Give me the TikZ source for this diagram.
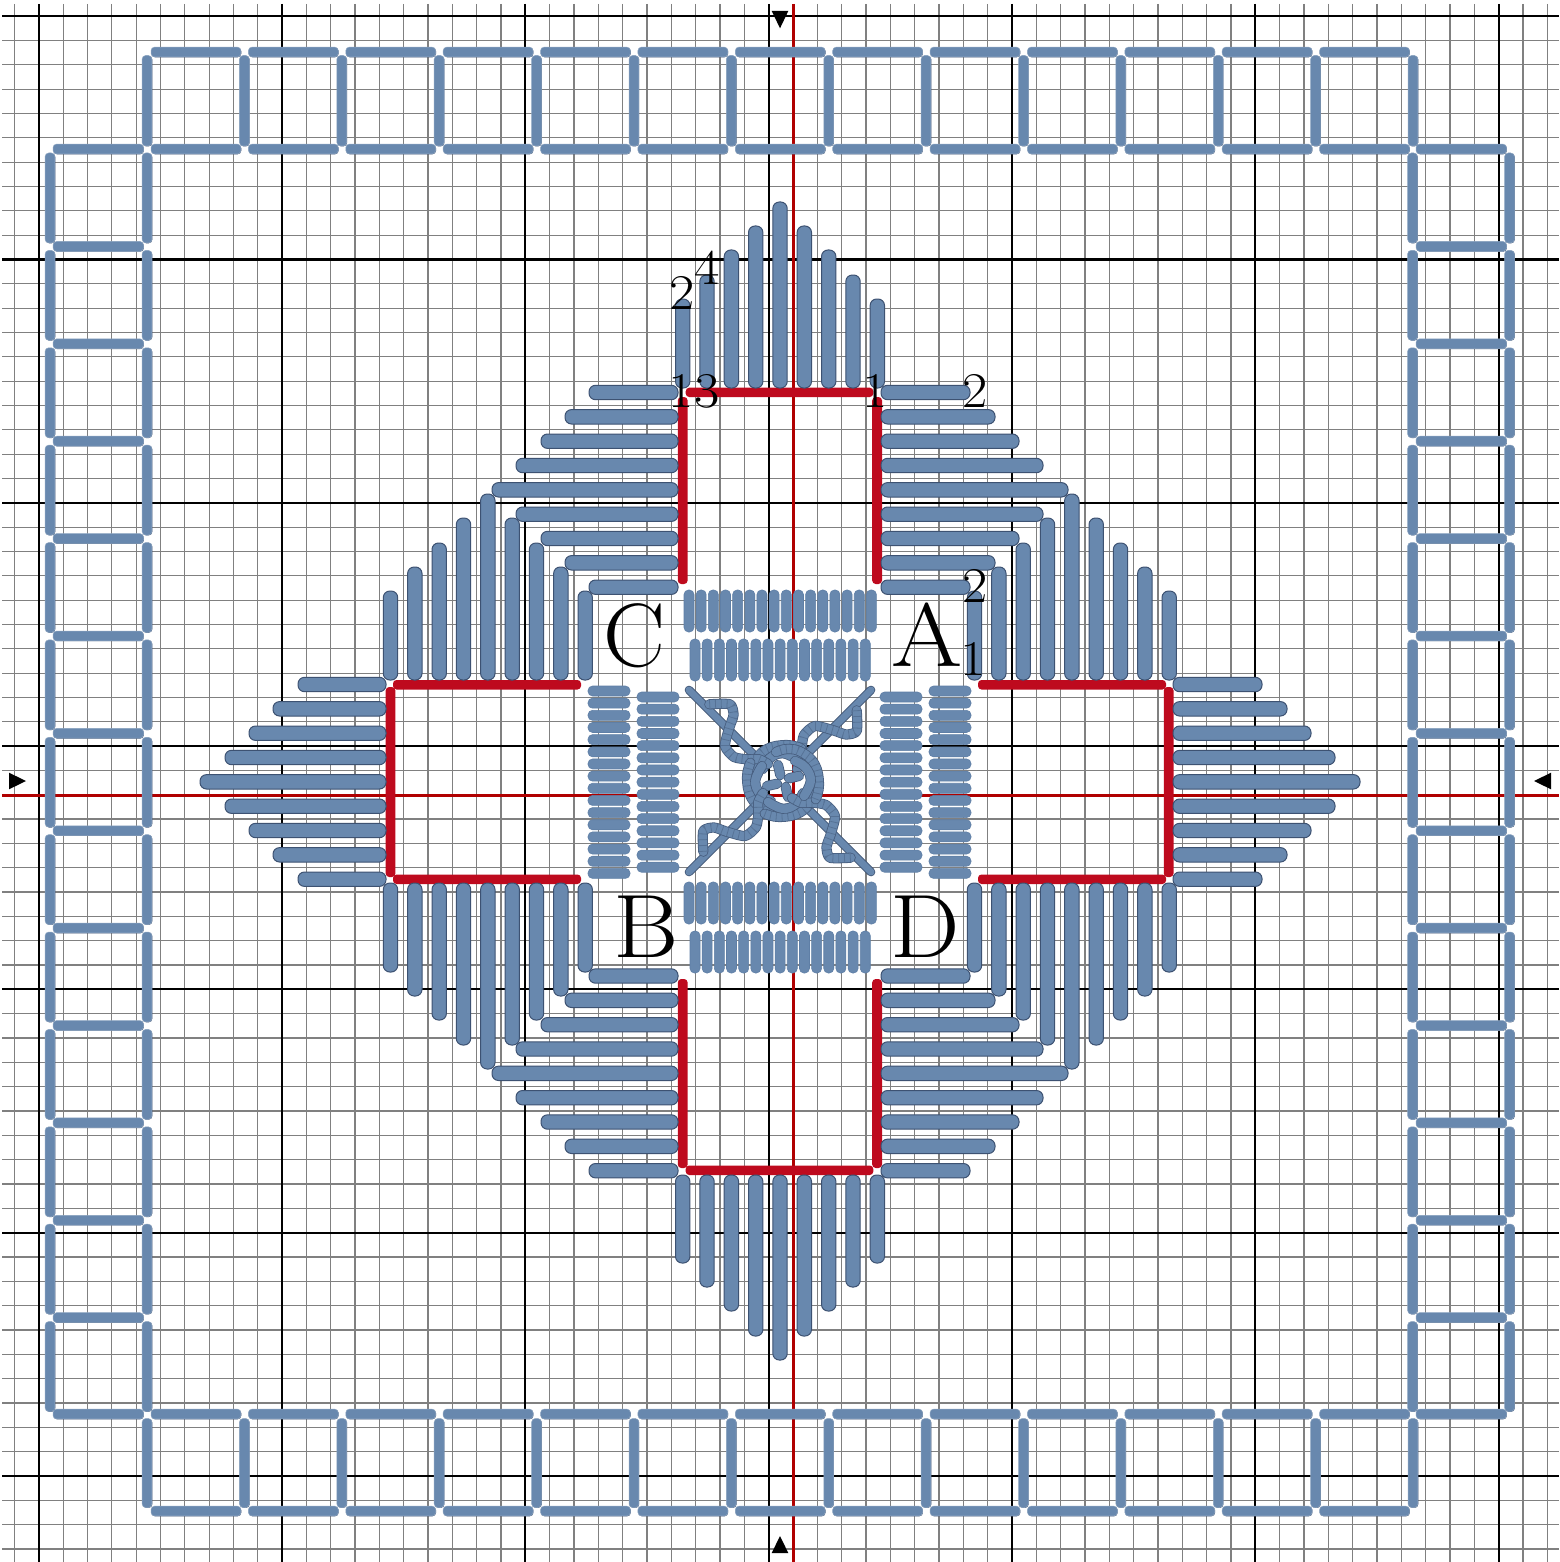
\documentclass[tikz,border=0pt]{standalone}
\definecolor{sb}{HTML}{6888AE}
\definecolor{sd}{HTML}{3D5272}
\definecolor{sl}{HTML}{5F7FA6}
\definecolor{rd}{HTML}{BE0A1E}
\definecolor{rl}{HTML}{B00000}
\definecolor{gr}{HTML}{808080}
\tikzset{
  stitch/.style={fill=sb,draw=sd,line width=1pt,rounded corners=6.5pt},
  small/.style={fill=sb,draw=sl,line width=.6pt,rounded corners=4.5pt},
  border/.style={fill=sb,draw=white!25!sb,line width=.5pt,rounded corners=3.6pt},
  bshadow/.style={fill=sd,rounded corners=3.6pt},
  redbar/.style={fill=rd,rounded corners=3.5pt},
  chain/.style={draw=sd!80!sb,double=sb,double distance=8.6pt,line width=.8pt,line cap=round,line join=round},
  lnk/.style={draw=sd,opacity=.4,line width=8.6pt,dash pattern=on .8pt off 5pt},
  big/.style={font=\fontsize{90}{90}\selectfont,inner sep=0pt,text=black},
  num/.style={font=\fontsize{50}{50}\selectfont,inner sep=0pt,text=black},
  tri/.style={fill=black}
}
\newcommand{\Hs}[3]{\draw[stitch] (#2,#1-7.2) rectangle (#3,#1+7.2);}
\newcommand{\Vs}[3]{\draw[stitch] (#1-7.2,#2) rectangle (#1+7.2,#3);}
\newcommand{\Hb}[3]{\fill[bshadow] (#2+.4,#1-4.4) rectangle (#3+.4,#1+5.3);\draw[border] (#2,#1-4.9) rectangle (#3,#1+4.9);}
\newcommand{\Vb}[3]{\fill[bshadow] (#1-4.4,#2+.4) rectangle (#1+5.3,#3+.4);\draw[border] (#1-4.9,#2) rectangle (#1+4.9,#3);}
\newcommand{\armpts}{(76.7,-70.7) (76.7,-50) (66,-46.5) (53.3,-50.7) (35,-55) (24,-46) (21.7,-32.7) (21.7,-21) (17,-12)}
\newcommand{\ringpts}{(18.3,-32.7) (3.3,-36) (-16.7,-31.7) (-29,-18.3) (-32,-4.3) (-29,7)}
\newcommand{\innerpts}{(15,-21) (0,-27.7) (-13.3,-22.7) (-20,-12)}
\begin{document}
\begin{tikzpicture}[x=1pt,y=-1pt]
\useasboundingbox (0,0) rectangle (1559,1562);
\fill[white] (0,0) rectangle (1559,1562);
% fine grid
\foreach \k in {-1,...,62}{\draw[gr,line width=1.2pt] ({38.8+24.33*\k},4) -- ({38.8+24.33*\k},1562);}
\foreach \k in {0,...,63}{\draw[gr,line width=1.2pt] (2,{16.2+24.33*\k}) -- (1559,{16.2+24.33*\k});}
% bold grid
\foreach \k in {0,...,6}{
  \draw[black,line width=2.1pt] ({38.8+243.3*\k},4) -- ({38.8+243.3*\k},1562);
  \draw[black,line width=2.1pt] (2,{16.2+243.3*\k}) -- (1559,{16.2+243.3*\k});
}
% red axes
\draw[rl,line width=2.6pt] (793.4,4) -- (793.4,1562);
\draw[rl,line width=2.6pt] (2,795.3) -- (1559,795.3);
% arrow marks
\fill[tri] (771.7,11) -- (788.3,11) -- (780,28.3) -- cycle;
\fill[tri] (771.7,1553) -- (788.3,1553) -- (780,1536) -- cycle;
\fill[tri] (9,772.7) -- (9,789.3) -- (26,781) -- cycle;
\fill[tri] (1551,772.7) -- (1551,789.3) -- (1534,781) -- cycle;
% outer border: top and bottom strips
\foreach \k in {0,...,12}{
  \pgfmathsetmacro{\xa}{147+97.38*\k+4}
  \pgfmathsetmacro{\xb}{147+97.38*(\k+1)-3.5}
  \Hb{52}{\xa}{\xb}\Hb{149}{\xa}{\xb}
  \Hb{1414}{\xa}{\xb}\Hb{1511}{\xa}{\xb}
  \pgfmathsetmacro{\ya}{149+97.38*\k+4}
  \pgfmathsetmacro{\yb}{149+97.38*(\k+1)-3.5}
  \Vb{50}{\ya}{\yb}\Vb{147}{\ya}{\yb}
  \Vb{1412.5}{\ya}{\yb}\Vb{1509.5}{\ya}{\yb}
}
\foreach \k in {0,...,13}{
  \pgfmathsetmacro{\x}{147+97.38*\k}
  \Vb{\x}{55.5}{146}\Vb{\x}{1418.5}{1507.5}
  \pgfmathsetmacro{\y}{149+97.38*\k}
  \ifnum\k>0 \ifnum\k<13
  \Hb{\y}{53}{143.5}\Hb{\y}{1416}{1506.5}
  \fi\fi
}
\Hb{149}{53}{143.5}\Hb{1414}{53}{143.5}
\Hb{149}{1416}{1506.5}\Hb{1414}{1416}{1506.5}
% red outlines of the cross
\fill[redbar] (685.7,387.7) rectangle (873.3,397);
\fill[redbar] (677.8,397) rectangle (687.6,584);
\fill[redbar] (872.2,397) rectangle (882,584);
\fill[redbar] (685.7,1165.5) rectangle (873.3,1175);
\fill[redbar] (677.8,979) rectangle (687.6,1168);
\fill[redbar] (872.2,979) rectangle (882,1168);
\fill[redbar] (393,680) rectangle (581,689.5);
\fill[redbar] (393,874.5) rectangle (581,884);
\fill[redbar] (385.7,687) rectangle (395.4,877);
\fill[redbar] (978,680) rectangle (1166,689.5);
\fill[redbar] (978,874.5) rectangle (1166,884);
\fill[redbar] (1163.8,687) rectangle (1173.5,877);
% long stitches, top arm
\foreach \x/\e in {682.7/299,707/275,731.4/250,755.7/226,780/202,804.3/226,828.7/250,853/275,877.3/299}{\Vs{\x}{\e}{388}}
\foreach \y/\e in {392.5/970,416.8/995,441.2/1019,465.5/1043,489.8/1068,514.2/1043,538.5/1019,562.8/995,587.2/970}{\Hs{\y}{881}{\e}}
\foreach \y/\e in {392.5/589,416.8/565,441.2/541,465.5/516,489.8/492,514.2/516,538.5/541,562.8/565,587.2/589}{\Hs{\y}{\e}{678}}
% long stitches, bottom arm
\foreach \x/\e in {682.7/1263,707/1287,731.4/1311,755.7/1336,780/1360,804.3/1336,828.7/1311,853/1287,877.3/1263}{\Vs{\x}{1175}{\e}}
\foreach \y/\e in {976/970,1000.3/995,1024.7/1019,1049/1043,1073.3/1068,1097.7/1043,1122/1019,1146.3/995,1170.7/970}{\Hs{\y}{881}{\e}}
\foreach \y/\e in {976/589,1000.3/565,1024.7/541,1049/516,1073.3/492,1097.7/516,1122/541,1146.3/565,1170.7/589}{\Hs{\y}{\e}{678}}
% long stitches, left arm
\foreach \x/\e in {390.5/591,414.8/567,439.2/543,463.5/518,487.8/494,512.2/518,536.5/543,560.8/567,585.2/591}{\Vs{\x}{\e}{680}}
\foreach \x/\e in {390.5/972,414.8/996,439.2/1020,463.5/1045,487.8/1069,512.2/1045,536.5/1020,560.8/996,585.2/972}{\Vs{\x}{883}{\e}}
\foreach \y/\e in {684.5/298,708.8/273,733.2/249,757.5/225,781.8/200,806.2/225,830.5/249,854.8/273,879.2/298}{\Hs{\y}{\e}{386}}
% long stitches, right arm
\foreach \x/\e in {974.5/591,998.8/567,1023.2/543,1047.5/518,1071.8/494,1096.2/518,1120.5/543,1144.8/567,1169.2/591}{\Vs{\x}{\e}{680}}
\foreach \x/\e in {974.5/972,998.8/996,1023.2/1020,1047.5/1045,1071.8/1069,1096.2/1045,1120.5/1020,1144.8/996,1169.2/972}{\Vs{\x}{883}{\e}}
\foreach \y/\e in {684.5/1262,708.8/1287,733.2/1311,757.5/1335,781.8/1360,806.2/1335,830.5/1311,854.8/1287,879.2/1262}{\Hs{\y}{1173}{\e}}
% short stitches
\foreach \k in {0,...,15}{
  \pgfmathsetmacro{\p}{689+12.16*\k}
  \pgfmathsetmacro{\q}{691+12.16*\k}
  \draw[small] (\p-5,590) rectangle (\p+5,632);
  \draw[small] (\p-5,882) rectangle (\p+5,924);
  \draw[small] (588,\q-5) rectangle (630,\q+5);
  \draw[small] (929,\q-5) rectangle (971,\q+5);
}
\foreach \k in {0,...,14}{
  \pgfmathsetmacro{\p}{695+12.16*\k}
  \pgfmathsetmacro{\q}{697+12.16*\k}
  \draw[small] (\p-5,639) rectangle (\p+5,681);
  \draw[small] (\p-5,931) rectangle (\p+5,973);
  \draw[small] (637,\q-5) rectangle (679,\q+5);
  \draw[small] (880,\q-5) rectangle (922,\q+5);
}
% central knot
\foreach \a in {0,90,180,270}{
\begin{scope}[shift={(780,781)},rotate=\a]
  \draw[draw=sd,double=sb,double distance=7pt,line width=.8pt,line cap=round] (91,-91) -- (22,-22);
\end{scope}}
\foreach \a in {0,90,180,270}{
\begin{scope}[shift={(780,781)},rotate=\a]
  \draw[chain] plot[smooth,tension=.4] coordinates {\armpts};
  \draw[lnk] plot[smooth,tension=.4] coordinates {\armpts};
\end{scope}
\begin{scope}[shift={(783,781)},rotate=\a]
  \draw[chain] plot[smooth,tension=.7] coordinates {\ringpts};
  \draw[lnk] plot[smooth,tension=.7] coordinates {\ringpts};
  \draw[chain] plot[smooth,tension=.7] coordinates {\innerpts};
  \draw[chain] (-5,-16) -- (-2.7,-6);
\end{scope}}
% labels
\node[big] (la) at (927,635) {\scalebox{1.14}[1]{A}};
\node[big] (lb) at (646,927) {\scalebox{1.11}[1]{B}};
\node[big] (lc) at (634,636) {\scalebox{1.03}[1]{C}};
\node[big] (ld) at (925,927) {\scalebox{1.09}[1]{D}};
\node[num] (n1) at (682,293) {\scalebox{1.1}[1]{2}};
\node[num] (n2) at (707,268) {\scalebox{1.1}[1]{4}};
\node[num] (n3) at (681,391) {\scalebox{1.1}[1]{1}};
\node[num] (n4) at (707,391) {\scalebox{1.1}[1]{3}};
\node[num] (n5) at (875,391) {\scalebox{1.1}[1]{1}};
\node[num] (n6) at (975,391) {\scalebox{1.1}[1]{2}};
\node[num] (n7) at (975,586) {\scalebox{1.1}[1]{2}};
\node[num] (n8) at (973,659) {\scalebox{1.1}[1]{1}};
\end{tikzpicture}
\end{document}
